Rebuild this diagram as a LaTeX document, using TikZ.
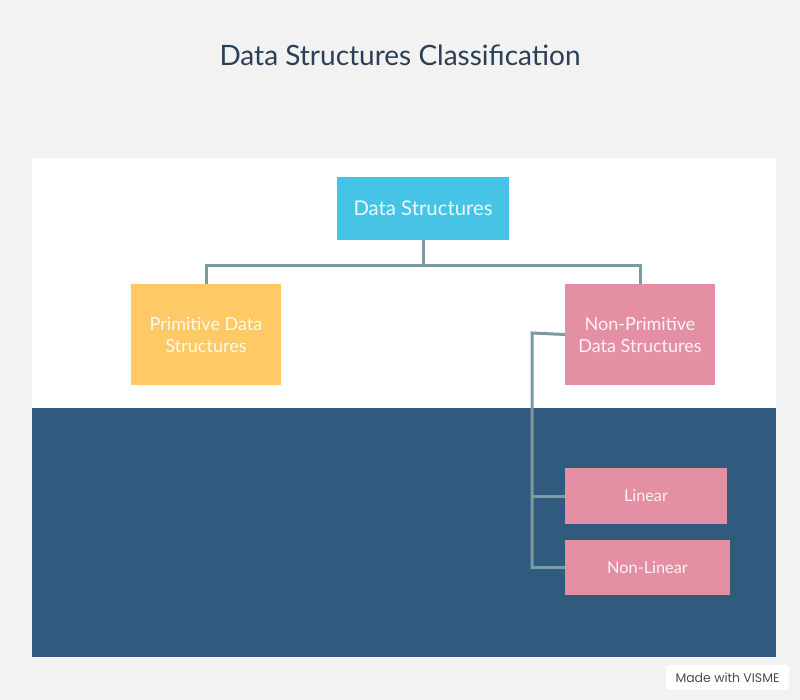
\documentclass[tikz,border=0pt]{standalone}
\usepackage{fontspec}
\setmainfont{Lato}
\newfontfamily\badgefont{Poppins}
\definecolor{pagebg}{HTML}{F2F2F2}
\definecolor{titleblue}{HTML}{2B3F57}
\definecolor{deepblue}{HTML}{305A7E}
\definecolor{skyblue}{HTML}{47C3E6}
\definecolor{sunyellow}{HTML}{FFC966}
\definecolor{rosepink}{HTML}{E48FA3}
\definecolor{linkgray}{HTML}{7A9BA0}
\tikzset{
  box/.style={rectangle, inner sep=0pt, align=center, text=white,
    text opacity=0.9, font=\fontsize{18}{22}\selectfont},
  link/.style={draw=linkgray, line width=3pt}
}
\begin{document}
\begin{tikzpicture}[x=1pt, y=-1pt]
  \fill[pagebg] (0,0) rectangle (800,700);
  \useasboundingbox (0,0) rectangle (800,700);
  \fill[white] (32,158) rectangle (776,408);
  \fill[deepblue] (32,408) rectangle (776,657);
  \node[text=titleblue, font=\fontsize{28}{32}\selectfont] (title) at (400,55) {Data Structures Classification};
  \node[box, fill=skyblue, minimum width=172pt, minimum height=63pt, font=\fontsize{20.3}{24}\selectfont] (ds) at (423,208.5) {Data Structures};
  \node[box, fill=sunyellow, minimum width=150pt, minimum height=101pt] (prim) at (206,334.5) {Primitive Data\\Structures};
  \node[box, fill=rosepink, minimum width=150pt, minimum height=101pt] (nonprim) at (640,334.5) {Non-Primitive\\Data Structures};
  \node[box, fill=rosepink, minimum width=162pt, minimum height=56pt, font=\fontsize{16.3}{20}\selectfont] (lin) at (646,496) {Linear};
  \node[box, fill=rosepink, minimum width=165pt, minimum height=55pt, font=\fontsize{16.3}{20}\selectfont] (nonlin) at (647.5,567.5) {Non-Linear};
  \coordinate (split) at (423,266);
  \coordinate (trunk) at (532,333);
  \draw[link] (ds.south) -- (split);
  \draw[link] (prim.north) |- (split) -| (nonprim.north);
  \draw[link] (nonprim.west) -- (trunk) |- (nonlin.west);
  \draw[link] (trunk |- lin.west) -- (lin.west);
  \node[fill=white, rounded corners=3pt, minimum width=123pt, minimum height=25pt, inner sep=0pt,
    text=black!70, font=\badgefont\fontsize{12.5}{14}\selectfont] (badge) at (727.5,677.5) {Made with VISME};
\end{tikzpicture}
\end{document}
